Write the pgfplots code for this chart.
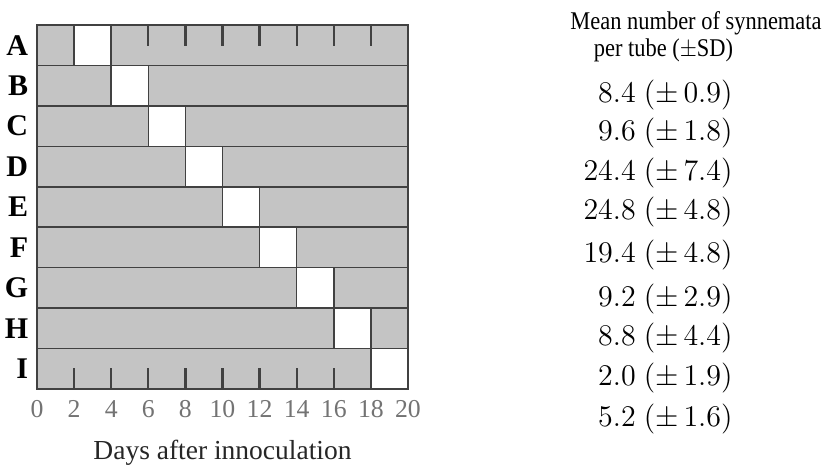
\documentclass[border=0pt]{standalone}
\usepackage{pgfplots}
\pgfplotsset{compat=1.18}
\usepackage{fontspec}
\setmainfont{Liberation Serif}
\definecolor{bargray}{RGB}{196,196,196}
\definecolor{edgegray}{RGB}{65,65,65}
\begin{document}
\begin{tikzpicture}[x=1pt,y=1pt]
\useasboundingbox (0,0) rectangle (329.2,185.6);
\begin{axis}[
  at={(14.8pt,30pt)}, anchor=south west,
  scale only axis, width=148.4pt, height=145.6pt,
  xbar stacked, bar width=1,
  y dir=reverse,
  xmin=0, xmax=20, ymin=0.5, ymax=9.5,
  enlargelimits=false,
  xtick={0,2,...,20},
  ytick={1,...,9},
  yticklabels={A,B,C,D,E,F,G,H,I},
  axis on top,
  axis line style={draw=edgegray, line width=0.9pt},
  tick align=inside,
  major tick length=8.4pt,
  xtick style={draw=edgegray, line width=0.9pt},
  ytick style={draw=none},
  /pgf/number format/assume math mode=true,
  xticklabel style={font=\fontsize{10.3}{10.3}\selectfont, text=black!55, yshift=-1pt},
  yticklabel style={font=\bfseries\fontsize{12}{12}\selectfont},
  xlabel={Days after innoculation},
  xlabel style={font=\fontsize{11}{11}\selectfont, text=black!85, yshift=-2pt},
]
\addplot[fill=bargray, draw=edgegray, line width=0.6pt] coordinates
  {(2,1) (4,2) (6,3) (8,4) (10,5) (12,6) (14,7) (16,8) (18,9)};
\addplot[fill=white, draw=edgegray, line width=0.6pt] coordinates
  {(2,1) (2,2) (2,3) (2,4) (2,5) (2,6) (2,7) (2,8) (2,9)};
\addplot[fill=bargray, draw=edgegray, line width=0.6pt] coordinates
  {(16,1) (14,2) (12,3) (10,4) (8,5) (6,6) (4,7) (2,8) (0,9)};
\end{axis}
\node[font=\fontsize{10.2}{12}\selectfont] at (278.4,176.4) {\scalebox{0.88}[1]{Mean number of synnemata}};
\node[font=\fontsize{10.2}{12}\selectfont] at (265.4,165.6) {\scalebox{0.88}[1]{per tube ($\pm$SD)}};
\begin{scope}[every node/.style={anchor=east, inner sep=0pt, font=\fontsize{12.9}{12}\selectfont}]
\node at (293.2,147.6) {$8.4\ (\pm\,0.9)$};
\node at (293.2,132.4) {$9.6\ (\pm\,1.8)$};
\node at (293.2,116.4) {$24.4\ (\pm\,7.4)$};
\node at (293.2,100.8) {$24.8\ (\pm\,4.8)$};
\node at (293.2,83.6) {$19.4\ (\pm\,4.8)$};
\node at (293.2,66.0) {$9.2\ (\pm\,2.9)$};
\node at (293.2,50.4) {$8.8\ (\pm\,4.4)$};
\node at (293.2,34.4) {$2.0\ (\pm\,1.9)$};
\node at (293.2,18.0) {$5.2\ (\pm\,1.6)$};
\end{scope}
\end{tikzpicture}
\end{document}
